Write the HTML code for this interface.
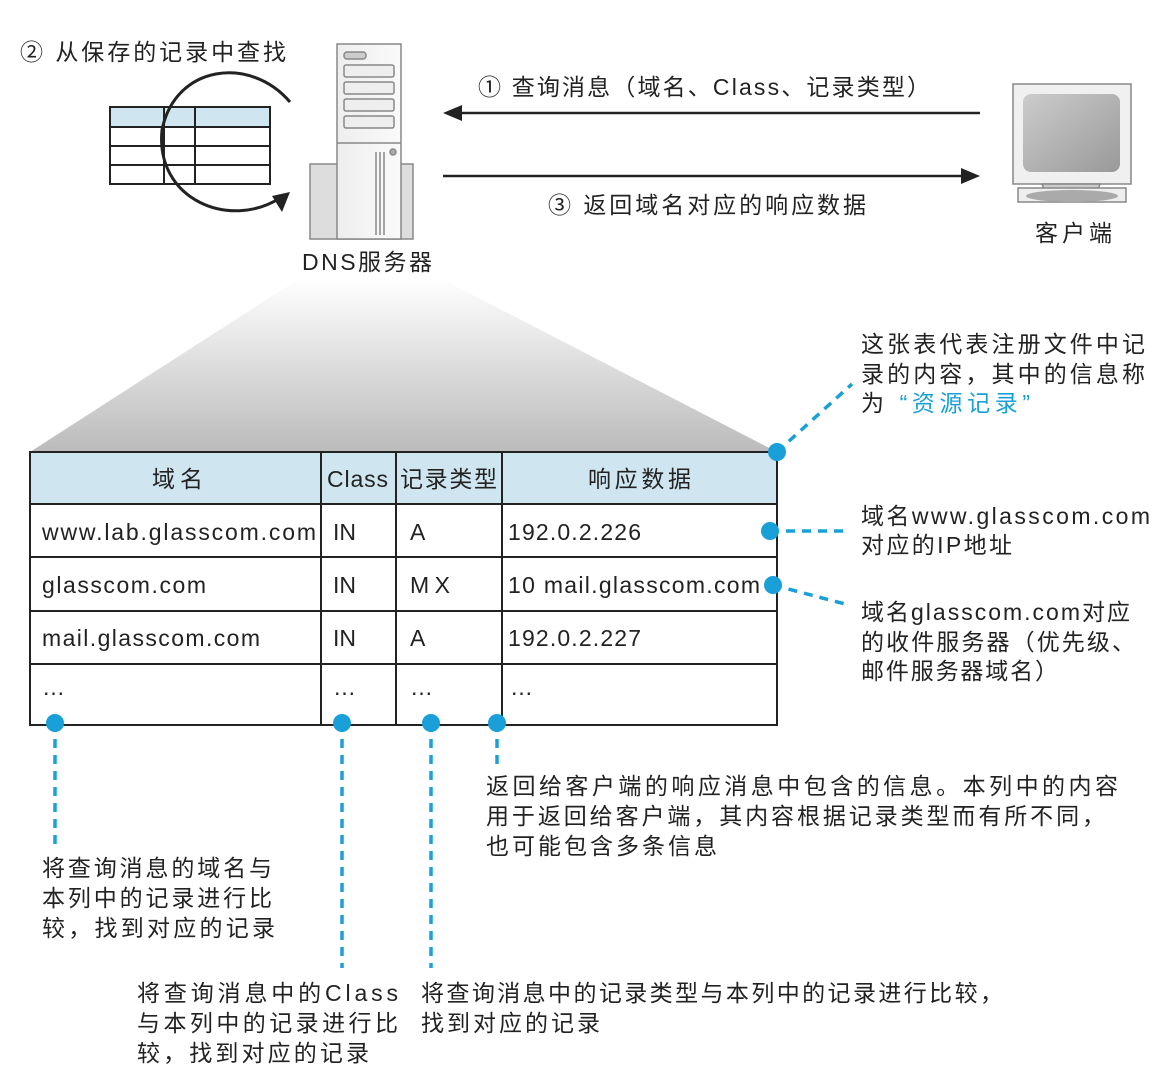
<!DOCTYPE html>
<html><head><meta charset="utf-8"><style>
body{margin:0;background:#fff}
svg text{font-family:"Liberation Sans","Noto Sans CJK SC",sans-serif;fill:#222;font-size:23px}
</style></head><body>
<svg width="1169" height="1080" viewBox="0 0 1169 1080" xmlns="http://www.w3.org/2000/svg">
<defs>
<linearGradient id="wedge" x1="0" y1="0" x2="0" y2="1">
<stop offset="0" stop-color="#fff"/><stop offset="1" stop-color="#bbb"/></linearGradient>
<linearGradient id="srv" x1="0" y1="0" x2="1" y2="0">
<stop offset="0" stop-color="#eee"/><stop offset="1" stop-color="#fafafa"/></linearGradient>
<linearGradient id="scr" x1="0" y1="0" x2="1" y2="1">
<stop offset="0" stop-color="#ccc"/><stop offset="1" stop-color="#999"/></linearGradient>
</defs>
<polygon points="300,278 440,278 777,452 30,452" fill="url(#wedge)"/>
<text x="20" y="60" textLength="266" lengthAdjust="spacing">② 从保存的记录中查找</text>
<rect x="110" y="107" width="160" height="20" fill="#cfe6f0"/>
<g stroke="#222" stroke-width="2" fill="none">
<rect x="110" y="107" width="160" height="77"/>
<line x1="110" y1="127" x2="270" y2="127"/><line x1="110" y1="146" x2="270" y2="146"/><line x1="110" y1="165" x2="270" y2="165"/>
<line x1="164" y1="107" x2="164" y2="184"/><line x1="195" y1="107" x2="195" y2="184"/>
<path d="M290,102 C250,55 175,65 162,130 C155,200 230,230 280,198" stroke-width="3"/>
</g>
<polygon points="290,192 272,196 282,212" fill="#222"/>
<g stroke="#888" stroke-width="1.5">
<rect x="310" y="164" width="103" height="75" fill="#ddd"/>
<rect x="337" y="44" width="64" height="195" fill="url(#srv)"/>
<line x1="337" y1="143" x2="401" y2="143"/>
<rect x="344" y="52" width="22" height="7" rx="3" fill="#ccc"/>
<rect x="344" y="65" width="50" height="12" rx="2" fill="#eee"/>
<rect x="344" y="82" width="50" height="12" rx="2" fill="#eee"/>
<rect x="344" y="99" width="50" height="12" rx="2" fill="#eee"/>
<rect x="344" y="116" width="50" height="12" rx="2" fill="#eee"/>
<line x1="376" y1="152" x2="376" y2="235"/><line x1="380" y1="152" x2="380" y2="235"/><line x1="384" y1="152" x2="384" y2="235"/>
<circle cx="393" cy="152" r="3" fill="#aaa"/>
</g>
<text x="302" y="270" textLength="130" lengthAdjust="spacing">DNS服务器</text>
<line x1="460" y1="113" x2="980" y2="113" stroke="#222" stroke-width="2.5"/>
<polygon points="443,113 462,105 462,121" fill="#222"/>
<line x1="443" y1="176" x2="963" y2="176" stroke="#222" stroke-width="2.5"/>
<polygon points="980,176 961,168 961,184" fill="#222"/>
<text x="478" y="95" textLength="452" lengthAdjust="spacing">① 查询消息（域名、Class、记录类型）</text>
<text x="548" y="213" textLength="318" lengthAdjust="spacing">③ 返回域名对应的响应数据</text>
<g stroke="#888" stroke-width="1.5">
<rect x="1013" y="84" width="118" height="100" fill="#f0f0f0"/>
<rect x="1023" y="94" width="97" height="78" rx="8" fill="url(#scr)" stroke="none"/>
<polygon points="1042,184 1100,184 1097,192 1045,192" fill="#ccc"/>
<rect x="1018" y="188" width="108" height="14" fill="#eee"/>
<ellipse cx="1072" cy="196" rx="46" ry="6" fill="#aaa" stroke="none"/>
</g>
<text x="1035" y="241" textLength="77" lengthAdjust="spacing">客户端</text>
<rect x="30" y="452" width="747" height="52" fill="#cfe6f0"/>
<g stroke="#222" stroke-width="2" fill="none">
<rect x="30" y="452" width="747" height="273"/>
<line x1="30" y1="504" x2="777" y2="504"/><line x1="30" y1="557" x2="777" y2="557"/>
<line x1="30" y1="611" x2="777" y2="611"/><line x1="30" y1="664" x2="777" y2="664"/>
<line x1="321" y1="452" x2="321" y2="725"/><line x1="396" y1="452" x2="396" y2="725"/><line x1="502" y1="452" x2="502" y2="725"/>
</g>
<text x="152" y="487" textLength="51" lengthAdjust="spacing">域名</text><text x="327" y="487" textLength="61" lengthAdjust="spacing">Class</text><text x="400" y="487" textLength="97" lengthAdjust="spacing">记录类型</text><text x="588" y="487" textLength="103" lengthAdjust="spacing">响应数据</text>
<text x="42" y="540" textLength="274" lengthAdjust="spacing">www.lab.glasscom.com</text><text x="333" y="540">IN</text><text x="410" y="540">A</text><text x="508" y="540" textLength="133" lengthAdjust="spacing">192.0.2.226</text>
<text x="42" y="593" textLength="164" lengthAdjust="spacing">glasscom.com</text><text x="333" y="593">IN</text><text x="410" y="593" textLength="40" lengthAdjust="spacing">MX</text><text x="508" y="593" textLength="252" lengthAdjust="spacing">10 mail.glasscom.com</text>
<text x="42" y="646" textLength="218" lengthAdjust="spacing">mail.glasscom.com</text><text x="333" y="646">IN</text><text x="410" y="646">A</text><text x="508" y="646" textLength="133" lengthAdjust="spacing">192.0.2.227</text>
<text x="42" y="695">…</text><text x="333" y="695">…</text><text x="410" y="695">…</text><text x="510" y="695">…</text>
<g stroke="#1aa0d8" stroke-width="3.5" stroke-dasharray="9,7" fill="none">
<line x1="777" y1="452" x2="852" y2="384"/>
<line x1="770" y1="531" x2="845" y2="531"/>
<line x1="773" y1="585" x2="845" y2="604"/>
<line x1="55" y1="723" x2="55" y2="850"/>
<line x1="342" y1="723" x2="342" y2="968"/>
<line x1="431" y1="723" x2="431" y2="968"/>
<line x1="497" y1="723" x2="497" y2="765"/>
</g>
<g fill="#1aa0d8">
<circle cx="777" cy="452" r="9"/><circle cx="770" cy="531" r="9"/><circle cx="773" cy="585" r="9"/>
<circle cx="55" cy="723" r="9"/><circle cx="342" cy="723" r="9"/><circle cx="431" cy="723" r="9"/><circle cx="497" cy="723" r="9"/>
</g>
<text x="861" y="352" textLength="284" lengthAdjust="spacing">这张表代表注册文件中记</text>
<text x="861" y="382" textLength="284" lengthAdjust="spacing">录的内容，其中的信息称</text>
<text x="861" y="411" textLength="169" lengthAdjust="spacing">为 <tspan style="fill:#1aa0d8">“资源记录”</tspan></text>
<text x="861" y="524" textLength="289" lengthAdjust="spacing">域名www.glasscom.com</text>
<text x="861" y="553" textLength="151" lengthAdjust="spacing">对应的IP地址</text>
<text x="861" y="620" textLength="269" lengthAdjust="spacing">域名glasscom.com对应</text>
<text x="861" y="650" textLength="274" lengthAdjust="spacing">的收件服务器（优先级、</text>
<text x="861" y="679" textLength="197" lengthAdjust="spacing">邮件服务器域名）</text>
<text x="486" y="794" textLength="632" lengthAdjust="spacing">返回给客户端的响应消息中包含的信息。本列中的内容</text>
<text x="486" y="824" textLength="619" lengthAdjust="spacing">用于返回给客户端，其内容根据记录类型而有所不同，</text>
<text x="486" y="854" textLength="231" lengthAdjust="spacing">也可能包含多条信息</text>
<text x="42" y="876" textLength="230" lengthAdjust="spacing">将查询消息的域名与</text>
<text x="42" y="906" textLength="230" lengthAdjust="spacing">本列中的记录进行比</text>
<text x="42" y="936" textLength="233" lengthAdjust="spacing">较，找到对应的记录</text>
<text x="137" y="1001" textLength="261" lengthAdjust="spacing">将查询消息中的Class</text>
<text x="137" y="1031" textLength="261" lengthAdjust="spacing">与本列中的记录进行比</text>
<text x="137" y="1061" textLength="232" lengthAdjust="spacing">较，找到对应的记录</text>
<text x="421" y="1001" textLength="582" lengthAdjust="spacing">将查询消息中的记录类型与本列中的记录进行比较，</text>
<text x="421" y="1031" textLength="179" lengthAdjust="spacing">找到对应的记录</text>
</svg>
</body></html>
